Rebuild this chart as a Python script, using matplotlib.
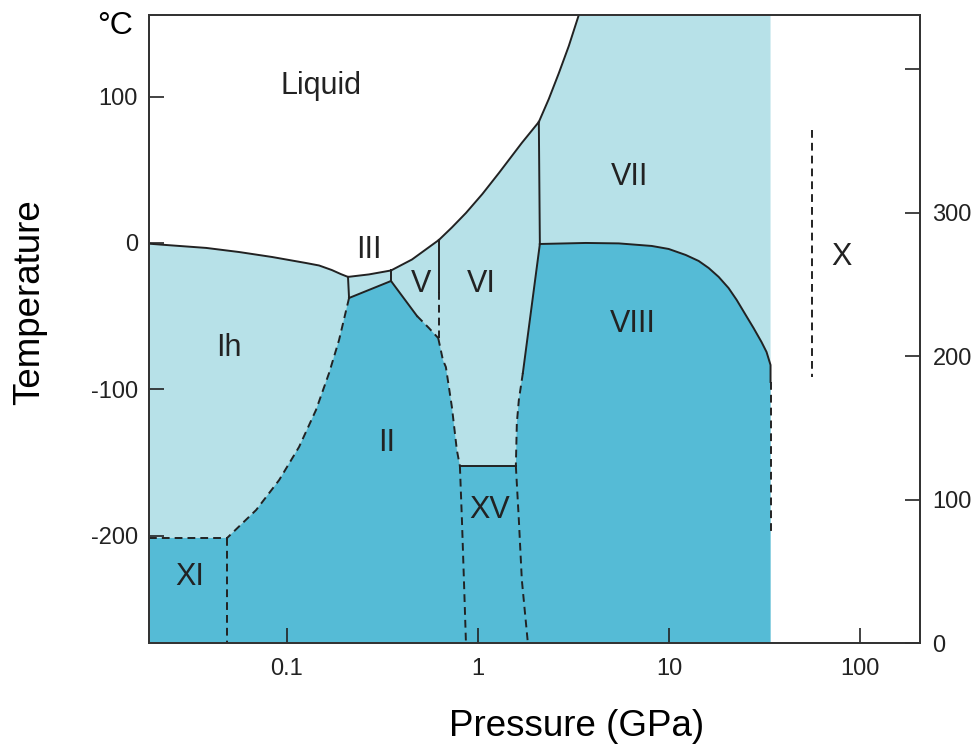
import numpy as np
import matplotlib.pyplot as plt

plt.rcParams['font.family'] = ['Liberation Sans', 'DejaVu Sans']

light = '#b7e1e8'
dark = '#55bbd6'

# axis range (pressure in GPa, temperature in deg C, right axis in K)
p_min, p_max = 0.019, 206
t_min, t_max = -273.4, 155.8
k_max = 438

# melting curves (P, T)
melt_ih_p = [0.019, 0.0234, 0.0379, 0.0563, 0.0838, 0.126, 0.1476, 0.172, 0.192, 0.209]
melt_ih_t = [-0.5, -1.4, -3.4, -6.2, -9.6, -13.7, -15.4, -18.5, -21.3, -23.2]
melt_iii_p = [0.209, 0.269, 0.351]
melt_iii_t = [-23.2, -21.5, -18.8]
melt_v_p = [0.351, 0.452, 0.625]
melt_v_t = [-18.8, -11.3, 2.05]
melt_vi_p = [0.625, 0.731, 0.866, 1.056, 1.288, 1.698, 2.084]
melt_vi_t = [2.05, 10.6, 20.5, 33.5, 47.8, 68.4, 82.7]
melt_vii_p = [2.084, 2.35, 2.651, 2.99, 3.373]
melt_vii_t = [82.7, 98.4, 116.0, 134.6, 155.8]

# solid-solid boundaries
ih_iii_p = [0.209, 0.2117]
ih_iii_t = [-23.2, -37.6]
iii_ii_p = [0.2117, 0.351]
iii_ii_t = [-37.6, -26.0]
iii_v_p = [0.351, 0.351]
iii_v_t = [-18.8, -26.0]
v_ii_p = [0.351, 0.48]
v_ii_t = [-26.0, -49.9]
v_ii_dash_p = [0.48, 0.554, 0.62]
v_ii_dash_t = [-49.9, -58.1, -65.0]
v_vi_p = [0.625, 0.625]
v_vi_t = [2.05, -33.5]
v_vi_dash_p = [0.625, 0.625]
v_vi_dash_t = [-33.5, -65.0]
ii_vi_p = [0.62, 0.656, 0.68, 0.731, 0.776, 0.805]
ii_vi_t = [-65.0, -80.0, -84.8, -112.1, -141.5, -152.4]
vi_vii_p = [2.084, 2.11]
vi_vii_t = [82.7, -0.7]
vii_viii_p = [2.11, 3.67, 5.46, 8.12, 9.96, 12.23, 14.3, 16.13, 18.2, 20.5, 22.6,
              25.2, 27.7, 30.5, 32.4, 34.0, 34.0]
vii_viii_t = [-0.7, 0.0, -0.3, -2.05, -4.1, -8.2, -12.3, -17.1, -23.2, -30.8, -38.9,
              -49.2, -58.1, -67.7, -74.5, -83.4, -95.0]
vi_viii_p = [2.11, 1.719]
vi_viii_t = [-0.7, -88.9]
vi_viii_dash_p = [1.719, 1.638, 1.599, 1.58]
vi_viii_dash_t = [-88.9, -107.3, -123.0, -152.4]
vi_xv_p = [0.805, 1.58]
vi_xv_t = [-152.4, -152.4]
ii_xv_p = [0.805, 0.825, 0.845, 0.866]
ii_xv_t = [-152.4, -189.3, -230.3, -273.4]
xv_viii_p = [1.58, 1.638, 1.698, 1.826]
xv_viii_t = [-152.4, -189.3, -230.3, -273.4]
ih_ii_p = [0.2117, 0.1877, 0.1664, 0.1422, 0.1159, 0.0912, 0.0691, 0.0487]
ih_ii_t = [-37.6, -66.3, -88.9, -114.1, -139.4, -162.0, -182.5, -201.6]
ih_xi_p = [0.019, 0.0487]
ih_xi_t = [-201.6, -201.6]
xi_ii_p = [0.0487, 0.0487]
xi_ii_t = [-201.6, -273.4]
viii_end_p = [34.0, 34.0]
viii_end_t = [-95.0, -199.6]
x_line_p = [55.7, 55.7]
x_line_t = [77.2, -91.6]

labels = ['Liquid', 'III', 'V', 'VI', 'VII', 'X', 'Ih', 'VIII', 'II', 'XV', 'XI']
label_p = [0.151, 0.269, 0.504, 1.037, 6.23, 80, 0.0499, 6.46, 0.334, 1.155, 0.0312]
label_t = [107.3, -4.8, -28, -28, 45.1, -9.6, -71.8, -55.4, -136.7, -182.5, -228.3]

fig = plt.figure(figsize=(9.77, 7.49), dpi=100)
ax = fig.add_axes([0.1525, 0.1415, 0.7892, 0.8385])

# light region: everything below the melting line, left of the VII/VIII edge
lp = np.concatenate([[p_min, p_min], melt_ih_p, melt_iii_p, melt_v_p, melt_vi_p,
                     melt_vii_p, [34.0, 34.0]])
lt = np.concatenate([[t_min, melt_ih_t[0]], melt_ih_t, melt_iii_t, melt_v_t, melt_vi_t,
                     melt_vii_t, [t_max, t_min]])
ax.fill(lp, lt, color=light, lw=0, zorder=1)

# dark region: XI, II, XV, VIII
dp = np.concatenate([[p_min, p_min], ih_xi_p, ih_ii_p[::-1], iii_ii_p, v_ii_p,
                     v_ii_dash_p, ii_vi_p, vi_xv_p, vi_viii_dash_p[::-1],
                     vi_viii_p[::-1], vii_viii_p, [34.0]])
dt = np.concatenate([[t_min, ih_xi_t[0]], ih_xi_t, ih_ii_t[::-1], iii_ii_t, v_ii_t,
                     v_ii_dash_t, ii_vi_t, vi_xv_t, vi_viii_dash_t[::-1],
                     vi_viii_t[::-1], vii_viii_t, [t_min]])
ax.fill(dp, dt, color=dark, lw=0, zorder=1)

solid = [(melt_ih_p, melt_ih_t), (melt_iii_p, melt_iii_t), (melt_v_p, melt_v_t),
         (melt_vi_p, melt_vi_t), (melt_vii_p, melt_vii_t), (ih_iii_p, ih_iii_t),
         (iii_ii_p, iii_ii_t), (iii_v_p, iii_v_t), (v_ii_p, v_ii_t), (v_vi_p, v_vi_t),
         (vi_vii_p, vi_vii_t), (vii_viii_p, vii_viii_t), (vi_viii_p, vi_viii_t),
         (vi_xv_p, vi_xv_t)]
dashed = [(v_ii_dash_p, v_ii_dash_t), (v_vi_dash_p, v_vi_dash_t), (ii_vi_p, ii_vi_t),
          (vi_viii_dash_p, vi_viii_dash_t), (ii_xv_p, ii_xv_t), (xv_viii_p, xv_viii_t),
          (ih_ii_p, ih_ii_t), (ih_xi_p, ih_xi_t), (xi_ii_p, xi_ii_t),
          (viii_end_p, viii_end_t), (x_line_p, x_line_t)]
for p, t in solid:
    ax.plot(p, t, color='#222222', lw=1.4, zorder=2, solid_joinstyle='round')
for p, t in dashed:
    ax.plot(p, t, color='#222222', lw=1.4, ls=(0, (4, 2.6)), zorder=2)

for s, p, t in zip(labels, label_p, label_t):
    ax.text(p, t, s, fontsize=22, color='#222222', ha='center', va='center', zorder=3)

ax.set_xscale('log')
ax.set_xlim(p_min, p_max)
ax.set_ylim(t_min, t_max)
ax.set_xticks([0.1, 1, 10, 100])
ax.set_xticklabels(['0.1', '1', '10', '100'])
ax.xaxis.set_minor_locator(plt.NullLocator())
ax.set_yticks([-200, -100, 0, 100])
ax.set_yticklabels(['-200', '-100', '0', '100'])
ax.tick_params(direction='in', length=11, width=1.2, labelsize=17, colors='#222222')
ax.tick_params(axis='x', pad=11)
ax.tick_params(axis='y', pad=8)

ax2 = ax.twinx()
ax2.set_ylim(0, k_max)
ax2.set_yticks([0, 100, 200, 300, 400])
ax2.set_yticklabels(['0', '100', '200', '300', ''])
ax2.tick_params(direction='in', length=11, width=1.2, labelsize=17, colors='#222222', pad=9)

for a in (ax, ax2):
    for sp in a.spines.values():
        sp.set_linewidth(1.3)
        sp.set_color('#333333')

ax.text(-0.044, 0.983, '°C', transform=ax.transAxes, fontsize=23, ha='center', va='center')
fig.text(577 / 977, 1 - 727 / 749, 'Pressure (GPa)', fontsize=26.5, ha='center', va='center')
fig.text(30 / 977, 1 - 302 / 749, 'Temperature', fontsize=26.5, ha='center', va='center',
         rotation=90)

fig.savefig('out.png', dpi=100)
